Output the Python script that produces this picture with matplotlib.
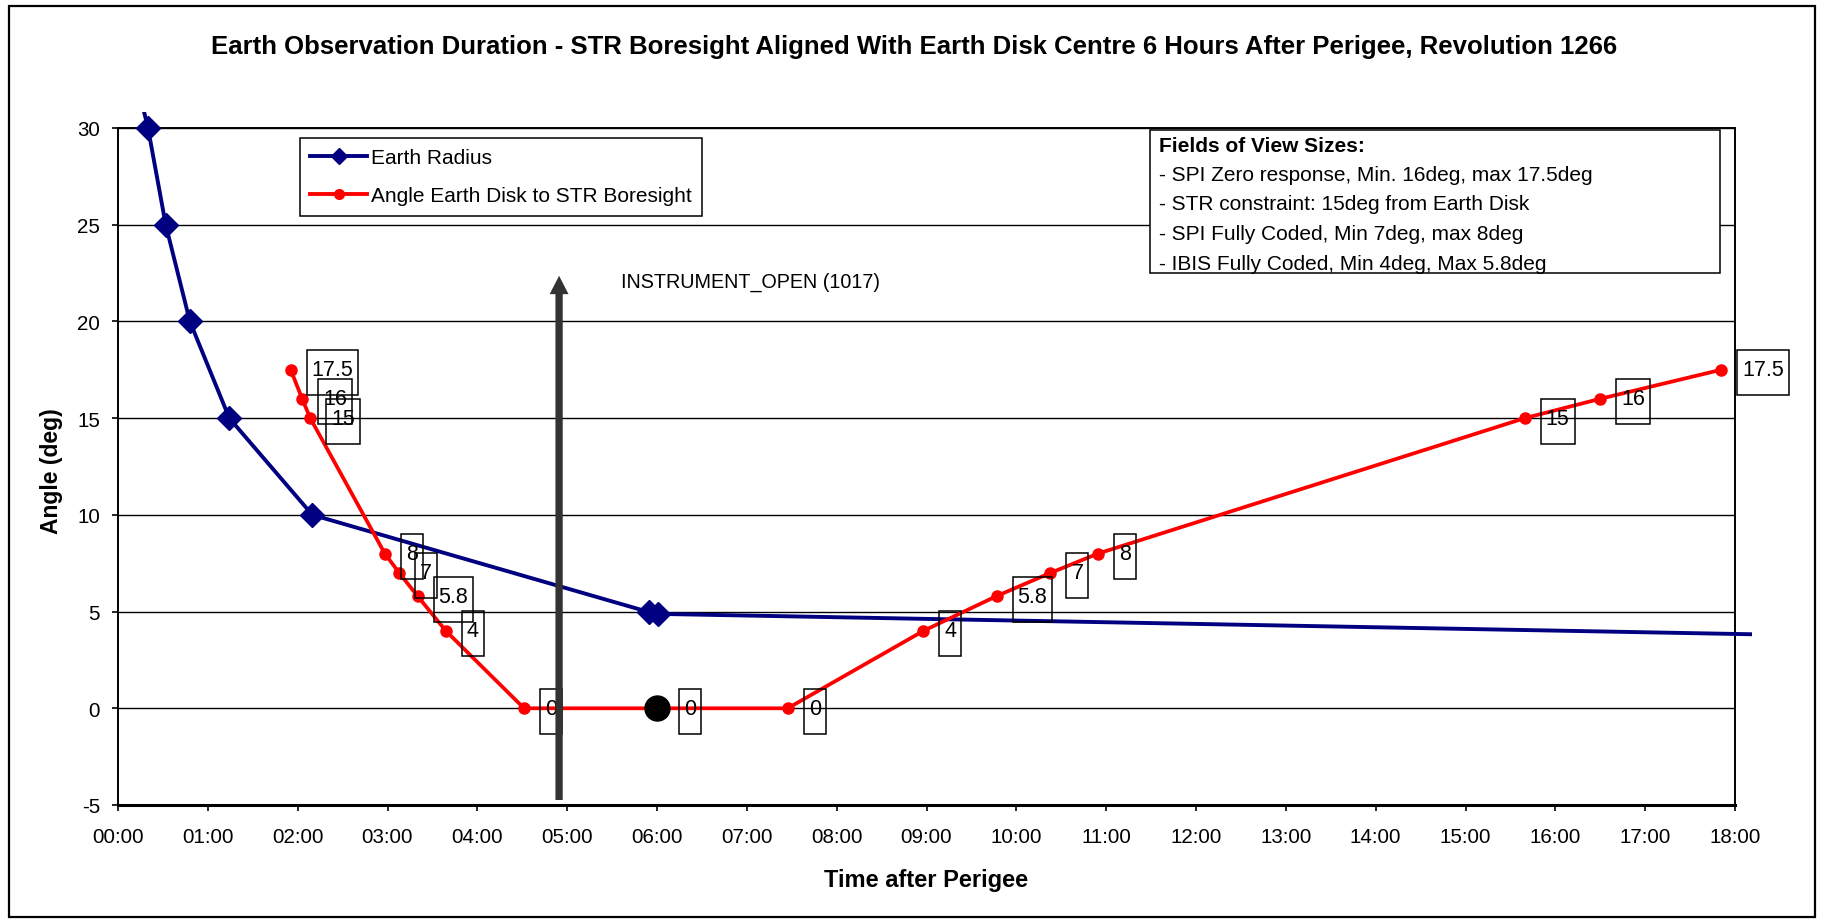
import matplotlib
matplotlib.use("Agg")
import matplotlib.pyplot as plt
from matplotlib.patches import Rectangle
from matplotlib.lines import Line2D

plt.rcParams['font.family'] = ['Liberation Sans', 'DejaVu Sans']
plt.rcParams['axes.unicode_minus'] = False

# ---------------- data ----------------
title = ("Earth Observation Duration - STR Boresight Aligned With Earth Disk Centre "
         "6 Hours After Perigee, Revolution 1266")
x_label = "Time after Perigee"
y_label = "Angle (deg)"
series_names = ["Earth Radius", "Angle Earth Disk to STR Boresight"]

# Earth radius (hours after perigee, degrees)
radius_hours = [0.15, 0.334, 0.531, 0.80, 1.239, 2.163, 5.914, 6.014, 20.0]
radius_deg = [33.5, 30.0, 25.0, 20.0, 15.0, 10.0, 4.97, 4.88, 3.67]

# Angle Earth disk to STR boresight
angle_hours = [1.923, 2.05, 2.14, 2.97, 3.13, 3.335, 3.65, 4.52, 6.0,
               7.455, 8.965, 9.78, 10.38, 10.91, 15.66, 16.50, 17.845]
angle_deg = [17.5, 16, 15, 8, 7, 5.8, 4, 0, 0,
             0, 4, 5.8, 7, 8, 15, 16, 17.5]
angle_labels = ["17.5", "16", "15", "8", "7", "5.8", "4", "0", "0",
                "0", "4", "5.8", "7", "8", "15", "16", "17.5"]
aligned_index = 8  # point at 06:00 (boresight on Earth disk centre)

x_ticks = list(range(0, 19))
x_tick_labels = ["00:00", "01:00", "02:00", "03:00", "04:00", "05:00", "06:00",
                 "07:00", "08:00", "09:00", "10:00", "11:00", "12:00", "13:00",
                 "14:00", "15:00", "16:00", "17:00", "18:00"]
y_ticks = [-5, 0, 5, 10, 15, 20, 25, 30]
y_tick_labels = ["-5", "0", "5", "10", "15", "20", "25", "30"]

event_label = "INSTRUMENT_OPEN (1017)"
event_hour = 4.91
event_arrow_from = -4.74
event_arrow_to = 22.36
event_text_pos = (5.6, 22.08)

fov_title = "Fields of View Sizes:"
fov_lines = ["- SPI Zero response, Min. 16deg, max 17.5deg",
             "- STR constraint: 15deg from Earth Disk",
             "- SPI Fully Coded, Min 7deg, max 8deg",
             "- IBIS Fully Coded, Min 4deg, Max 5.8deg"]

# ---------------- layout ----------------
W, H = 1821, 920
fig = plt.figure(figsize=(W / 100, H / 100), dpi=100)
fig.patch.set_facecolor('white')


def fx(px):
    return px / W


def fy(py):
    return 1 - py / H


AX_L, AX_R, AX_T, AX_B = 118, 1735, 129, 806
ax = fig.add_axes([fx(AX_L), fy(AX_B), fx(AX_R) - fx(AX_L), fy(AX_T) - fy(AX_B)])
ax.set_xlim(0, 18)
ax.set_ylim(-5, 30)

ax.set_axisbelow(True)
ax.yaxis.grid(True, color='black', lw=1.0)
ax.xaxis.grid(False)
for s in ax.spines.values():
    s.set_color('black')
    s.set_linewidth(1.4)
ax.spines['bottom'].set_linewidth(2.2)

ax.set_xticks(x_ticks)
ax.set_xticklabels(x_tick_labels)
ax.set_yticks(y_ticks)
ax.set_yticklabels(y_tick_labels)
ax.tick_params(axis='x', direction='out', length=4.5, width=1.2, pad=11, labelsize=14.8)
ax.tick_params(axis='y', direction='out', length=4, width=1.2, pad=9, labelsize=14.8)

# Earth radius line (Excel lets it run a little past the plot area)
blue, = ax.plot(radius_hours, radius_deg, color='#000080', lw=2.8, marker='D',
                ms=12, mfc='#000080', mec='#000080', zorder=3)
blue.set_clip_path(Rectangle((0, 0), 1.0105, 1.0236, transform=ax.transAxes))

# Angle line
ax.plot(angle_hours, angle_deg, color='#ff0000', lw=2.7, marker='o', ms=8,
        mfc='#ff0000', mec='#ff0000', zorder=4)
ax.plot([angle_hours[aligned_index]], [angle_deg[aligned_index]], 'o',
        color='black', ms=18, zorder=5)

# event arrow + label
ax.arrow(event_hour, event_arrow_from, 0, event_arrow_to - event_arrow_from,
         width=0.0813, head_width=0.21, head_length=0.95,
         length_includes_head=True, fc='#333333', ec='none', zorder=7)
ax.text(event_text_pos[0], event_text_pos[1], event_label, fontsize=14.2,
        ha='left', va='center', zorder=7)

# data labels
label_texts = []
for i, (t, v, lab) in enumerate(zip(angle_hours, angle_deg, angle_labels)):
    gap = 22 if i == aligned_index else 16
    txt = ax.annotate(lab, xy=(t, v), xytext=((gap + 5) * 0.72, 0),
                      textcoords='offset points', ha='left', va='center',
                      fontsize=15.5, zorder=6)
    label_texts.append((txt, t, v, gap))

# legend
handles = [Line2D([], [], color='#000080', lw=2.8, marker='D', ms=8),
           Line2D([], [], color='#ff0000', lw=2.8, marker='o', ms=7)]
leg = ax.legend(handles, series_names, loc='upper left',
                bbox_to_anchor=(fx(300), fy(139)), bbox_transform=fig.transFigure,
                fontsize=15, frameon=True, fancybox=False, edgecolor='black',
                framealpha=1, borderaxespad=0, borderpad=0.5, labelspacing=0.9,
                handlelength=2.7, handletextpad=0.2)
leg.get_frame().set_linewidth(1.1)
leg.set_zorder(8)

# Fields of view box
fig.add_artist(Rectangle((fx(1150), fy(274)), fx(1720) - fx(1150), fy(131) - fy(274),
                         transform=fig.transFigure, fc='white', ec='black', lw=1.1,
                         zorder=5))
row_y = [146, 175.5, 205, 234.5, 264]
fig.text(fx(1159), fy(row_y[0]), fov_title, fontsize=15, fontweight='bold',
         va='center', ha='left', zorder=6)
for yy, line in zip(row_y[1:], fov_lines):
    fig.text(fx(1159), fy(yy), line, fontsize=15, va='center', ha='left', zorder=6)

# title and axis labels
fig.text(fx(914), fy(47), title, ha='center', va='center', fontsize=18.5,
         fontweight='bold')
ax.set_xlabel(x_label, fontsize=17, fontweight='bold')
ax.xaxis.set_label_coords(0.5, (AX_B - 880) / (AX_B - AX_T))
ax.xaxis.label.set_va('center')
ax.set_ylabel(y_label, fontsize=16.5, fontweight='bold')
ax.yaxis.set_label_coords((52 - AX_L) / (AX_R - AX_L), (AX_B - 471) / (AX_B - AX_T))
ax.yaxis.label.set_va('center')

# figure border
fig.add_artist(Rectangle((fx(9), fy(918)), fx(1815) - fx(9), fy(7) - fy(918),
                         transform=fig.transFigure, fill=False, ec='black', lw=1.6))

# boxes around data labels (need text extents)
fig.canvas.draw()
for txt, t, v, gap in label_texts:
    bb = txt.get_window_extent()
    px, py = ax.transData.transform((t, v))
    x0 = px + gap
    x1 = bb.x1 + 5
    yc = py - 3
    r = Rectangle((x0 / W, (yc - 22.5) / H), (x1 - x0) / W, 45 / H,
                  transform=fig.transFigure, fill=False, ec='black', lw=1.1,
                  zorder=5)
    ax.add_artist(r)
    r.set_clip_on(False)

fig.savefig('out.png', dpi=100, facecolor='white')
